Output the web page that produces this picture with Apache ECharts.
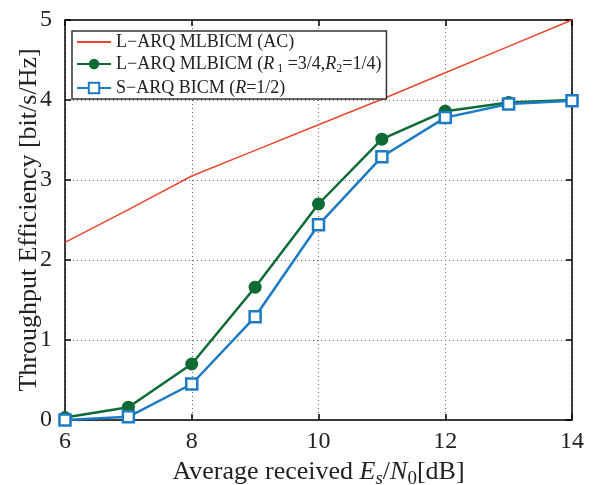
<!DOCTYPE html>
<html>
<head>
<meta charset="utf-8">
<script src="https://cdn.jsdelivr.net/npm/echarts@6/dist/echarts.min.js"></script>
<style>
  html, body {margin: 0; padding: 0; background: #fff;}
  #chart {width: 595px; height: 485px;}
</style>
</head>
<body>
<div id="chart"></div>
<script>
var snrValues = [6, 7, 8, 9, 10, 11, 12, 13, 14];
var acValues = [2.22, 2.63, 3.05, 3.37, 3.69, 4.01, 4.34, 4.67, 5.0];
var mlbicmValues = [0.03, 0.16, 0.70, 1.66, 2.70, 3.51, 3.86, 3.97, 4.0];
var bicmValues = [0.0, 0.04, 0.45, 1.29, 2.44, 3.29, 3.78, 3.95, 3.99];
var xTicks = [6, 8, 10, 12, 14];
var yTicks = [0, 1, 2, 3, 4, 5];

var seriesNames = ['ac', 'mlbicm', 'bicm'];
var legendLabels = {
    ac: 'L\u2212ARQ MLBICM (AC)',
    mlbicm: 'L\u2212ARQ MLBICM ({i|R}{sub| 1} =3/4,{i|R}{sub|2}=1/4)',
    bicm: 'S\u2212ARQ BICM ({i|R}=1/2)'
};

function pairs(ys) {
    return snrValues.map(function (x, i) { return [x, ys[i]]; });
}

var serif = 'Liberation Serif';
var ink = '#222';
var chart = echarts.init(document.getElementById('chart'));

var axisCommon = {
    axisLine: {show: true, onZero: false, lineStyle: {color: '#000', width: 1.5}},
    axisTick: {show: true, inside: true, length: 6, lineStyle: {color: '#000', width: 1.5}}
};
var gridDots = {show: true, lineStyle: {color: '#666', type: [1, 3], width: 1}};

chart.setOption({
    animation: false,
    backgroundColor: '#fff',
    grid: {left: 65, right: 23, top: 20, bottom: 65, outerBoundsMode: 'none', containLabel: false},
    legend: {
        data: [
            {name: 'ac', itemStyle: {opacity: 0}},
            {name: 'mlbicm'},
            {name: 'bicm'}
        ],
        orient: 'vertical',
        left: 72, top: 31,
        itemWidth: 34, itemHeight: 13,
        itemGap: 4,
        padding: [2, 5, 2, 4],
        borderColor: '#333', borderWidth: 1.5,
        backgroundColor: '#fff',
        formatter: function (name) { return legendLabels[name]; },
        textStyle: {
            fontFamily: serif, fontSize: 18, color: ink,
            rich: {
                i: {fontFamily: serif, fontSize: 18, fontStyle: 'italic', color: ink},
                sub: {fontFamily: serif, fontSize: 12, color: ink, padding: [10, 0, 0, 0]}
            }
        }
    },
    xAxis: [
        Object.assign({
            type: 'value', min: 6, max: 14, interval: 2, position: 'bottom',
            name: 'Average received {i|E}{isub|s}{n|/}{i|N}{sub|0}{n|[dB]}',
            nameLocation: 'middle', nameGap: 34,
            nameTextStyle: {
                fontFamily: serif, fontSize: 26, color: ink,
                rich: {
                    n: {fontFamily: serif, fontSize: 26, color: ink},
                    i: {fontFamily: serif, fontSize: 26, fontStyle: 'italic', color: ink},
                    isub: {fontFamily: serif, fontSize: 19, fontStyle: 'italic', color: ink, padding: [14, 0, 0, 0]},
                    sub: {fontFamily: serif, fontSize: 19, color: ink, padding: [14, 0, 0, 0]}
                }
            },
            axisLabel: {fontFamily: serif, fontSize: 24, color: ink, margin: 10,
                formatter: function (v) { return xTicks.indexOf(v) >= 0 ? String(v) : ''; }},
            splitLine: gridDots
        }, axisCommon),
        Object.assign({
            type: 'value', min: 6, max: 14, interval: 2, position: 'top',
            axisLabel: {show: false}, splitLine: {show: false}
        }, axisCommon)
    ],
    yAxis: [
        Object.assign({
            type: 'value', min: 0, max: 5, interval: 1, position: 'left',
            name: 'Throughput Efficiency [bit/s/Hz]',
            nameLocation: 'middle', nameGap: 23, nameMoveOverlap: false,
            nameTextStyle: {fontFamily: serif, fontSize: 26, color: ink},
            axisLabel: {fontFamily: serif, fontSize: 24, color: ink, margin: 13,
                formatter: function (v) { return yTicks.indexOf(v) >= 0 ? String(v) : ''; }},
            splitLine: gridDots
        }, axisCommon),
        Object.assign({
            type: 'value', min: 0, max: 5, interval: 1, position: 'right',
            axisLabel: {show: false}, splitLine: {show: false}
        }, axisCommon)
    ],
    series: [
        {
            name: 'ac', type: 'line', data: pairs(acValues),
            showSymbol: false, symbol: 'none',
            lineStyle: {color: '#e8472e', width: 1.5},
            itemStyle: {color: '#e8472e'}
        },
        {
            name: 'mlbicm', type: 'line', data: pairs(mlbicmValues),
            symbol: 'circle', symbolSize: 13,
            lineStyle: {color: '#0d6b33', width: 2.5},
            itemStyle: {color: '#0d6b33'}
        },
        {
            name: 'bicm', type: 'line', data: pairs(bicmValues),
            symbol: 'rect', symbolSize: 11,
            lineStyle: {color: '#1b7bc4', width: 2.5},
            itemStyle: {color: '#fff', borderColor: '#1b7bc4', borderWidth: 2.5}
        }
    ]
});
</script>
</body>
</html>
